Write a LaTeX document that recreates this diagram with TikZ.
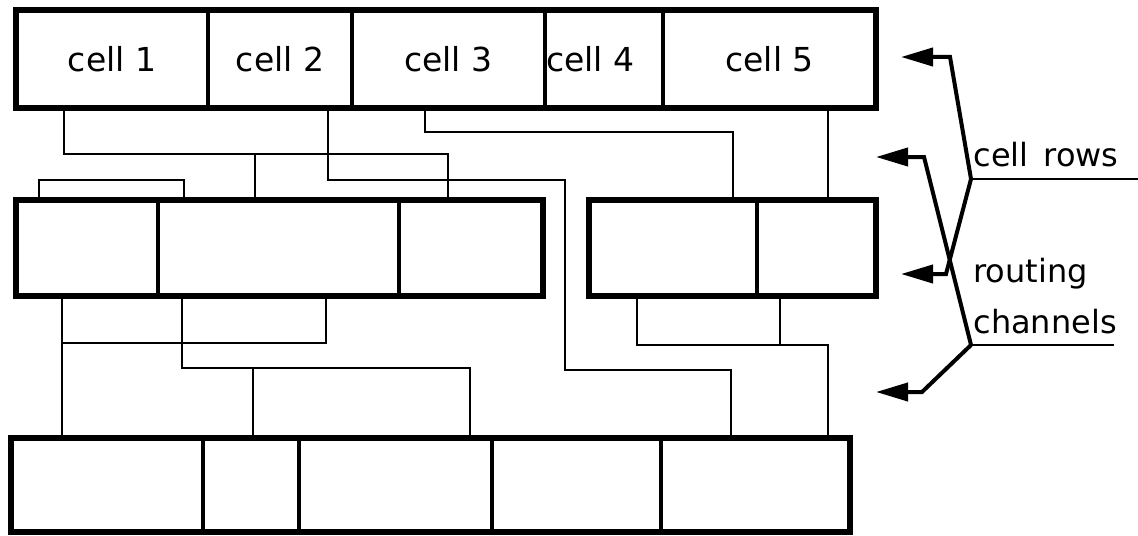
\documentclass[tikz,border=0pt]{standalone}
\usepackage{fontspec}
\setmainfont{DejaVu Sans}
\usetikzlibrary{arrows.meta}
\begin{document}
\begin{tikzpicture}[x=0.5pt,y=-0.5pt,
  cellbox/.style={draw,line width=2pt,inner sep=0pt,outer sep=0pt,font=\fontsize{16.5}{20}\selectfont},
  rowframe/.style={draw,line width=2.8pt},
  wire/.style={line width=1pt},
  pointer/.style={line width=2pt,-{Triangle[length=16pt,width=9pt]}},
  uline/.style={line width=1.3pt},
  lbl/.style={inner sep=0pt,font=\fontsize{16}{19}\selectfont}]
\useasboundingbox (0,0) rectangle (1138,535);
% row 1
\node[cellbox,minimum width=96pt,minimum height=49pt] (c1) at (112,59) {cell 1};
\node[cellbox,minimum width=72pt,minimum height=49pt] (c2) at (280,59) {cell 2};
\node[cellbox,minimum width=96.5pt,minimum height=49pt] (c3) at (448.5,59) {cell 3};
\node[cellbox,minimum width=59pt,minimum height=49pt] (c4) at (604,59) {};
\node[inner sep=0pt,font=\fontsize{16.5}{20}\selectfont,anchor=west] (t4) at ([xshift=0.3pt]c4.west) {cell 4};
\node[cellbox,minimum width=106.5pt,minimum height=49pt] (c5) at (769.5,59) {cell 5};
\draw[rowframe] (c1.north west) rectangle (c5.south east);
% row 2
\node[cellbox,minimum width=71pt,minimum height=48pt] (r2a) at (87,248) {};
\node[cellbox,minimum width=120.5pt,minimum height=48pt] (r2b) at (278.5,248) {};
\node[cellbox,minimum width=72pt,minimum height=48pt] (r2c) at (471,248) {};
\draw[rowframe] (r2a.north west) rectangle (r2c.south east);
\node[cellbox,minimum width=84pt,minimum height=48pt] (r2d) at (673,248) {};
\node[cellbox,minimum width=59.5pt,minimum height=48pt] (r2e) at (816.5,248) {};
\draw[rowframe] (r2d.north west) rectangle (r2e.south east);
% row 3
\node[cellbox,minimum width=96pt,minimum height=47pt] (r3a) at (107,485) {};
\node[cellbox,minimum width=48pt,minimum height=47pt] (r3b) at (251,485) {};
\node[cellbox,minimum width=96.5pt,minimum height=47pt] (r3c) at (395.5,485) {};
\node[cellbox,minimum width=84.5pt,minimum height=47pt] (r3d) at (576.5,485) {};
\node[cellbox,minimum width=94.5pt,minimum height=47pt] (r3e) at (755.5,485) {};
\draw[rowframe] (r3a.north west) rectangle (r3e.south east);
% wires, channel 1
\draw[wire] (64,0 |- c1.south) -- (64,154) -- (448,154) -- (448,0 |- r2c.north);
\draw[wire] (255,154) -- (255,0 |- r2b.north);
\draw[wire] (328,0 |- c2.south) -- (328,180) -- (565,180) -- (565,370) -- (731,370) -- (731,0 |- r3e.north);
\draw[wire] (425,0 |- c3.south) -- (425,132) -- (733,132) -- (733,0 |- r2d.north);
\draw[wire] (39,0 |- r2a.north) -- (39,180) -- (184,180) -- (184,0 |- r2b.north);
\draw[wire] (828,0 |- c5.south) -- (828,0 |- r2e.north);
% wires, channel 2
\draw[wire] (326,0 |- r2b.south) -- (326,343) -- (62,343);
\draw[wire] (62,0 |- r2a.south) -- (62,0 |- r3a.north);
\draw[wire] (182,0 |- r2b.south) -- (182,368) -- (470,368) -- (470,0 |- r3c.north);
\draw[wire] (253,368) -- (253,0 |- r3b.north);
\draw[wire] (637,0 |- r2d.south) -- (637,345) -- (828,345) -- (828,0 |- r3e.north);
\draw[wire] (780,0 |- r2e.south) -- (780,345);
% labels
\node[lbl,anchor=base west] (lrows) at (973,166) {cell \hspace{2.5pt}rows};
\node[lbl,anchor=base west] (lrout) at (973,282) {routing};
\node[lbl,anchor=base west] (lchan) at (973,333) {channels};
\coordinate (j1) at (971,179);
\coordinate (j2) at (971,345);
\coordinate (e1) at (1138,179);
\coordinate (e2) at (1114,345);
\coordinate (a1) at (901,57);
\coordinate (a2) at (876,157);
\coordinate (a3) at (901,274);
\coordinate (a4) at (876,392);
\draw[uline] (j1) -- (e1);
\draw[uline] (j2) -- (e2);
\draw[pointer] (j1) -- (950,57) -- (a1);
\draw[pointer] (j2) -- (924,157) -- (a2);
\draw[pointer] (j1) -- (946,274) -- (a3);
\draw[pointer] (j2) -- (922,392) -- (a4);
\end{tikzpicture}
\end{document}
